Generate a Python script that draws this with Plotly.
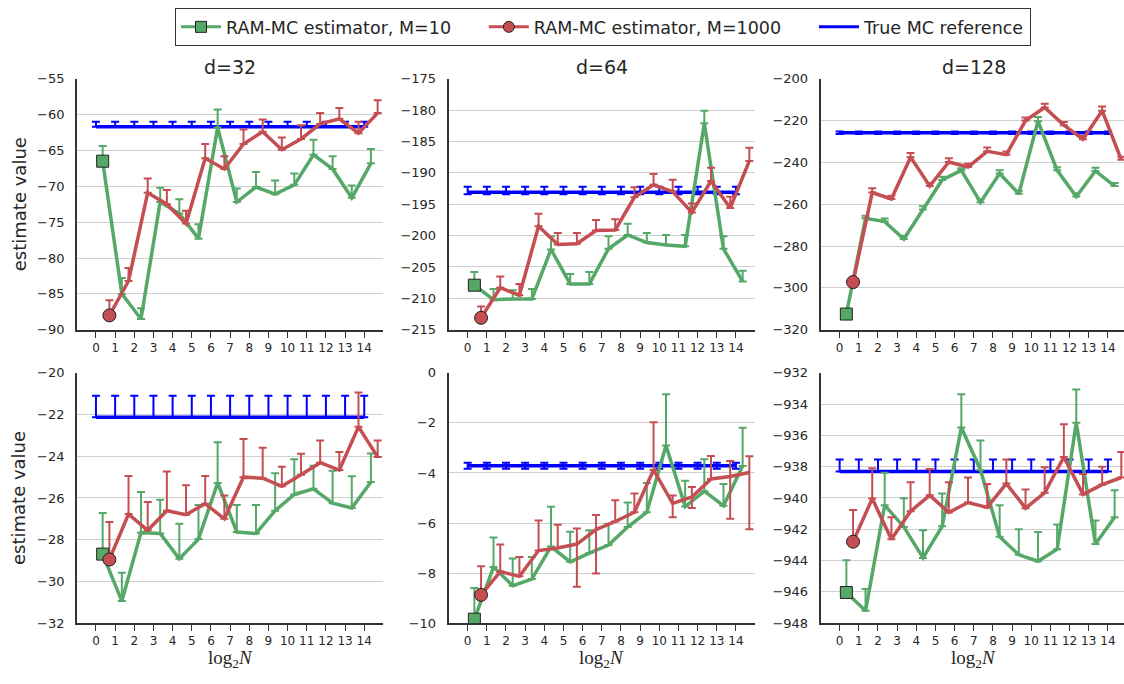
import plotly.graph_objects as go
from plotly.subplots import make_subplots

# ---------------- data ----------------
log2N = list(range(15))
tick_labels = [str(v) for v in log2N]
col_titles = ["d=32", "d=64", "d=128"]
series_names = ["RAM-MC estimator, M=10", "RAM-MC estimator, M=1000", "True MC reference"]

# Row 1 ------------------------------------------------
r1_d32_m10 = [-66.5, -85.0, -88.5, -72.2, -73.8, -77.3, -61.8, -72.2, -70.1, -71.1, -69.8, -65.6, -67.6, -71.6, -66.8]
r1_d32_m10_up = [2.1, 2.2, 1.5, 2.0, 2.0, 2.0, 2.5, 1.9, 2.1, 1.9, 1.6, 2.1, 1.8, 1.7, 2.0]
r1_d32_m1000 = [-88.0, -83.2, -70.9, -72.5, -75.2, -66.1, -67.6, -64.1, -62.4, -64.9, -63.4, -61.3, -60.6, -62.6, -59.8]
r1_d32_m1000_up = [2.1, 1.8, 2.0, 2.0, 1.8, 2.0, 1.8, 2.0, 1.7, 1.7, 1.9, 1.5, 1.5, 1.6, 1.8]
r1_d32_true, r1_d32_true_up, r1_d32_true_dn = -61.7, 0.7, 0.0

r1_d64_m10 = [-207.9, -210.2, -210.1, -210.1, -202.2, -207.7, -207.7, -202.1, -199.9, -201.1, -201.5, -201.7, -182.1, -202.1, -207.3]
r1_d64_m10_up = [2.1, 1.7, 1.4, 1.6, 2.1, 1.6, 1.9, 2.0, 1.8, 1.5, 1.6, 1.8, 2.0, 2.0, 1.7]
r1_d64_m1000 = [-213.1, -208.3, -209.5, -198.5, -201.4, -201.3, -199.2, -199.1, -193.9, -191.9, -193.0, -196.3, -191.3, -195.6, -188.1]
r1_d64_m1000_up = [1.8, 1.8, 1.8, 2.0, 1.8, 1.7, 1.7, 1.7, 1.6, 1.7, 1.9, 1.4, 2.1, 1.8, 2.1]
r1_d64_true, r1_d64_true_up, r1_d64_true_dn = -193.1, 0.9, 0.3

r1_d128_m10 = [-312.5, -266.7, -268.3, -276.6, -262.5, -248.4, -243.8, -259.1, -245.3, -255.0, -220.3, -243.8, -256.3, -244.1, -251.3]
r1_d128_m10_up = [1.0, 1.2, 1.5, 1.5, 1.5, 1.5, 1.0, 1.5, 1.5, 1.5, 2.0, 1.5, 1.5, 1.5, 1.5]
r1_d128_m1000 = [-297.2, -254.4, -257.5, -237.5, -251.3, -239.8, -242.2, -234.7, -236.3, -220.0, -213.8, -222.2, -228.9, -215.3, -238.8]
r1_d128_m1000_up = [1.0, 2.0, 1.5, 2.0, 1.5, 1.8, 1.5, 1.8, 1.5, 1.5, 1.8, 1.5, 1.5, 2.0, 1.5]
r1_d128_true, r1_d128_true_up, r1_d128_true_dn = -225.8, 0.6, 0.6

# Row 2 ------------------------------------------------
r2_d32_m10 = [-28.69, -30.94, -27.66, -27.70, -28.91, -27.97, -25.28, -27.63, -27.70, -26.61, -25.83, -25.56, -26.25, -26.48, -25.23]
r2_d32_m10_up = [1.97, 1.36, 1.95, 1.61, 1.67, 1.64, 1.95, 1.30, 1.37, 1.80, 1.69, 1.11, 1.56, 1.52, 1.36]
r2_d32_m1000 = [-28.95, -26.77, -27.55, -26.61, -26.80, -26.27, -27.00, -25.00, -25.05, -25.44, -24.89, -24.31, -24.66, -22.59, -24.03]
r2_d32_m1000_up = [1.80, 1.83, 1.36, 1.88, 1.41, 1.33, 1.12, 1.83, 1.46, 0.94, 1.01, 1.06, 0.86, 1.65, 0.78]
r2_d32_true, r2_d32_true_up, r2_d32_true_dn = -22.13, 1.03, 0.0

r2_d64_m10 = [-9.84, -7.76, -8.50, -8.24, -6.94, -7.55, -7.20, -6.88, -6.16, -5.57, -2.90, -5.34, -4.73, -5.31, -3.72]
r2_d64_m10_up = [1.25, 1.18, 1.08, 0.88, 1.59, 1.20, 0.91, 0.85, 0.98, 1.17, 2.04, 1.03, 1.28, 0.87, 1.53]
r2_d64_m1000 = [-8.87, -7.94, -8.13, -7.10, -7.00, -6.84, -6.26, -5.94, -5.57, -3.88, -5.22, -4.96, -4.24, -4.14, -3.98]
r2_d64_m1000_up = [1.14, 1.08, 0.77, 1.20, 0.93, 0.62, 0.58, 0.85, 0.75, 1.91, 0.32, 0.40, 0.92, 0.62, 0.65]
r2_d64_m1000_dn = [0, 0, 0, 0, 0, 1.70, 1.76, 0, 0, 0, 0.55, 0.44, 0, 1.69, 2.27]
r2_d64_true, r2_d64_true_up, r2_d64_true_dn = -3.71, 0.12, 0.12

r2_d128_m10 = [-946.04, -947.21, -940.46, -941.85, -943.83, -941.81, -935.50, -938.21, -942.48, -943.63, -944.04, -943.27, -935.19, -942.94, -941.23]
r2_d128_m10_up = [2.06, 1.40, 2.08, 1.83, 1.77, 2.10, 2.13, 1.88, 2.02, 1.63, 1.87, 1.58, 2.13, 1.50, 1.73]
r2_d128_m1000 = [-942.79, -940.04, -942.63, -940.85, -939.83, -940.92, -940.29, -940.60, -939.08, -940.65, -939.67, -937.38, -939.77, -939.15, -938.69]
r2_d128_m1000_up = [2.02, 1.94, 1.40, 1.85, 1.68, 1.92, 1.60, 1.50, 1.54, 1.19, 1.63, 2.09, 1.31, 1.15, 1.63]
r2_d128_true, r2_d128_true_up, r2_d128_true_dn = -938.31, 0.77, 0.0

y_ranges = [[-90, -55], [-215, -175], [-320, -200], [-32, -20], [-10, 0], [-948, -932]]
y_dticks = [5, 5, 20, 2, 2, 2]

zeros = [0] * len(log2N)
panels = [
    (r1_d32_m10, r1_d32_m10_up, zeros, r1_d32_m1000, r1_d32_m1000_up, zeros, r1_d32_true, r1_d32_true_up, r1_d32_true_dn),
    (r1_d64_m10, r1_d64_m10_up, zeros, r1_d64_m1000, r1_d64_m1000_up, zeros, r1_d64_true, r1_d64_true_up, r1_d64_true_dn),
    (r1_d128_m10, r1_d128_m10_up, zeros, r1_d128_m1000, r1_d128_m1000_up, zeros, r1_d128_true, r1_d128_true_up, r1_d128_true_dn),
    (r2_d32_m10, r2_d32_m10_up, zeros, r2_d32_m1000, r2_d32_m1000_up, zeros, r2_d32_true, r2_d32_true_up, r2_d32_true_dn),
    (r2_d64_m10, r2_d64_m10_up, zeros, r2_d64_m1000, r2_d64_m1000_up, r2_d64_m1000_dn, r2_d64_true, r2_d64_true_up, r2_d64_true_dn),
    (r2_d128_m10, r2_d128_m10_up, zeros, r2_d128_m1000, r2_d128_m1000_up, zeros, r2_d128_true, r2_d128_true_up, r2_d128_true_dn),
]

# ---------------- style ----------------
W, H = 1124, 684
GREEN = "#55A868"
RED = "#C44E52"
BLUE = "#0000FF"
TXT = "#262626"
FONT = "DejaVu Sans"
OFF_M10, OFF_M1000 = 0.35, 0.70
PAD = "\u00a0" * 5

col_px = [(76.8, 383.4), (448.5, 755.1), (820.5, 1124.0)]
x_ranges = [[-1, 15], [-1, 15], [-1, 14.84]]
row_px = [(73.3, 330.0), (374.0, 630.0)]

fig = make_subplots(rows=2, cols=3)

x_m10 = [v + OFF_M10 for v in log2N]
x_m1000 = [v + OFF_M1000 for v in log2N]

for k, (g, gu, gd, r, ru, rd, t, tu, td) in enumerate(panels):
    row, col = k // 3 + 1, k % 3 + 1
    fig.add_trace(go.Scatter(
        x=log2N, y=[t] * len(log2N), mode="lines",
        line=dict(color=BLUE, width=3.5), showlegend=False,
        error_y=dict(type="data", symmetric=False, array=[tu] * len(log2N),
                     arrayminus=[td] * len(log2N), color=BLUE, thickness=2, width=4),
        hoverinfo="skip"), row=row, col=col)
    fig.add_trace(go.Scatter(
        x=x_m10, y=g, mode="lines",
        line=dict(color=GREEN, width=3.5), showlegend=False,
        error_y=dict(type="data", symmetric=False, array=gu, arrayminus=gd,
                     color=GREEN, thickness=2, width=4)), row=row, col=col)
    fig.add_trace(go.Scatter(
        x=x_m1000, y=r, mode="lines",
        line=dict(color=RED, width=3.5), showlegend=False,
        error_y=dict(type="data", symmetric=False, array=ru, arrayminus=rd,
                     color=RED, thickness=2, width=4)), row=row, col=col)
    fig.add_trace(go.Scatter(
        x=x_m10[:1], y=g[:1], mode="markers", showlegend=False,
        marker=dict(symbol="square", size=12, color=GREEN, line=dict(color="#222", width=1))),
        row=row, col=col)
    fig.add_trace(go.Scatter(
        x=x_m1000[:1], y=r[:1], mode="markers", showlegend=False,
        marker=dict(symbol="circle", size=13, color=RED, line=dict(color="#222", width=1))),
        row=row, col=col)

# legend-only entries
fig.add_trace(go.Scatter(x=[None], y=[None], mode="lines+markers", name=series_names[0] + PAD,
                         line=dict(color=GREEN, width=3),
                         marker=dict(symbol="square", size=11, color=GREEN, line=dict(color="#222", width=1))),
              row=1, col=1)
fig.add_trace(go.Scatter(x=[None], y=[None], mode="lines+markers", name=series_names[1] + PAD,
                         line=dict(color=RED, width=3),
                         marker=dict(symbol="circle", size=11, color=RED, line=dict(color="#222", width=1))),
              row=1, col=1)
fig.add_trace(go.Scatter(x=[None], y=[None], mode="lines", name=series_names[2],
                         line=dict(color=BLUE, width=3)), row=1, col=1)

for k in range(6):
    row, col = k // 3, k % 3
    suffix = "" if k == 0 else str(k + 1)
    x0, x1 = col_px[col]
    ytop, ybot = row_px[row]
    fig.layout["xaxis" + suffix].update(
        domain=[x0 / W, min(x1 / W, 1.0)], range=x_ranges[col],
        tickmode="array", tickvals=log2N, ticktext=tick_labels,
        ticks="outside", ticklen=6, tickwidth=1.2, tickcolor="#333",
        showline=True, linecolor="#333", linewidth=1.5, showgrid=False, zeroline=False,
        tickfont=dict(family=FONT, size=12, color=TXT))
    fig.layout["yaxis" + suffix].update(
        domain=[1 - ybot / H, 1 - ytop / H], range=y_ranges[k], dtick=y_dticks[k],
        tick0=y_ranges[k][0],
        ticks="", showline=True, linecolor="#333", linewidth=1.5,
        showgrid=True, gridcolor="#cfcfcf", gridwidth=1, zeroline=False,
        ticklabelstandoff=8,
        tickfont=dict(family=FONT, size=13, color=TXT))

annotations = []
for c in range(3):
    x0, x1 = col_px[c]
    xc = (x0 + x1) / 2 if c < 2 else (x0 + 1127) / 2
    annotations.append(dict(text=col_titles[c], x=xc / W, y=1 - 61 / H, xref="paper", yref="paper",
                            xanchor="center", yanchor="middle", showarrow=False,
                            font=dict(family=FONT, size=19, color=TXT)))
    annotations.append(dict(text="log<sub>2</sub><i>N</i>", x=xc / W, y=1 - 667 / H, xref="paper", yref="paper",
                            xanchor="center", yanchor="middle", showarrow=False,
                            font=dict(family="Liberation Serif", size=19, color=TXT)))
for r in range(2):
    ytop, ybot = row_px[r]
    annotations.append(dict(text="estimate value", x=19 / W, y=1 - (ytop + ybot) / 2 / H,
                            xref="paper", yref="paper", xanchor="center", yanchor="middle",
                            textangle=-90, showarrow=False,
                            font=dict(family=FONT, size=18, color=TXT)))

fig.update_layout(
    width=W, height=H, margin=dict(l=0, r=0, t=0, b=0),
    plot_bgcolor="white", paper_bgcolor="white",
    font=dict(family=FONT, color=TXT),
    annotations=annotations,
    legend=dict(orientation="h", x=603 / W, xanchor="center", y=1 - 1 / H, yanchor="top",
                bgcolor="white", bordercolor="#333", borderwidth=1,
                font=dict(family=FONT, size=17.5, color=TXT), itemwidth=40),
)

fig.write_html("out.html")
